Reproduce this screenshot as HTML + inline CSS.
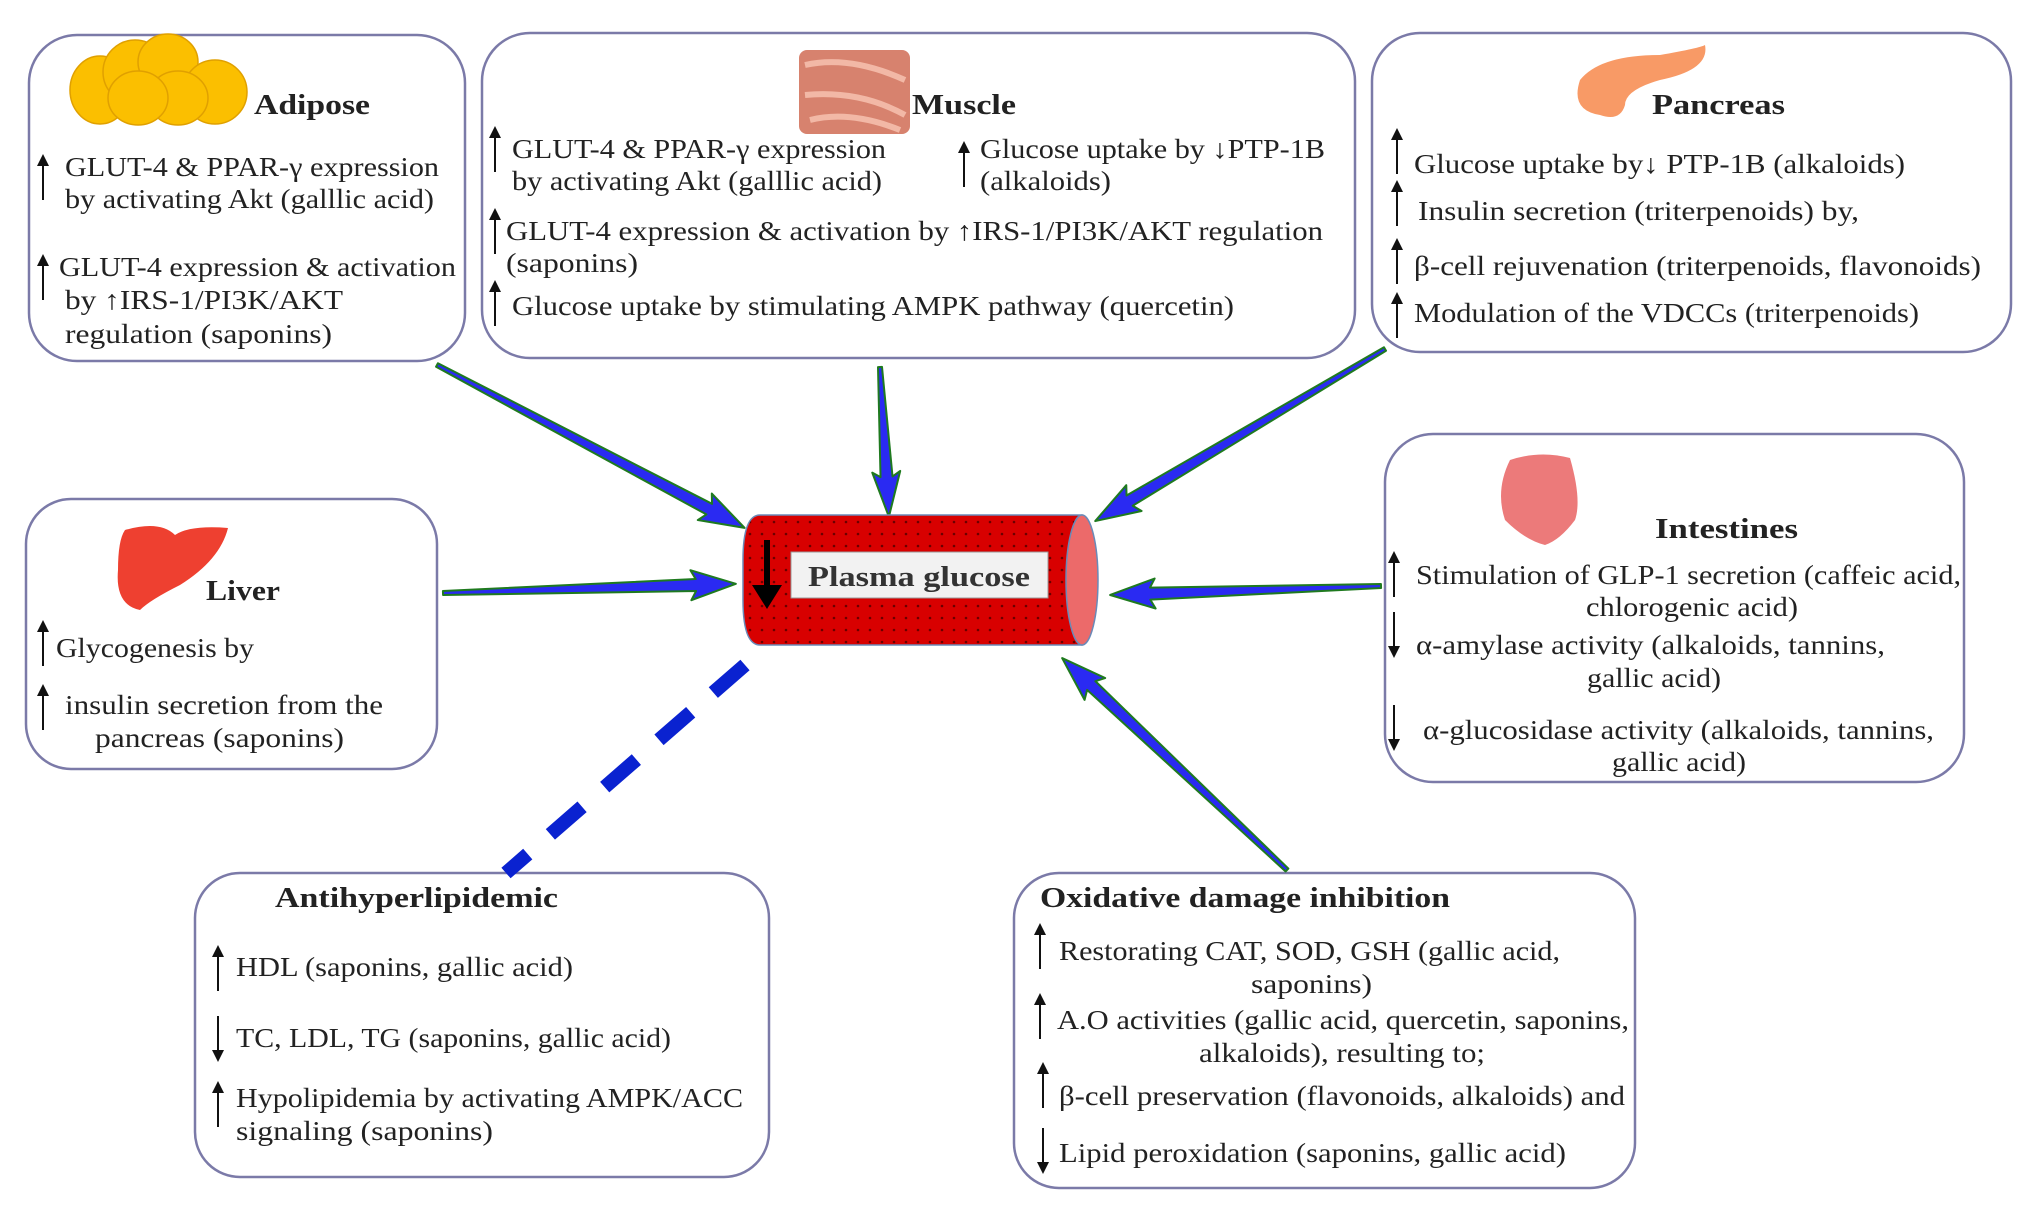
<!DOCTYPE html>
<html><head><meta charset="utf-8"><style>html,body{margin:0;padding:0;background:#fff}svg{display:block}</style></head>
<body>
<svg width="2033" height="1215" viewBox="0 0 2033 1215" xmlns="http://www.w3.org/2000/svg" font-family="Liberation Serif, serif" font-size="27" fill="#222">
<defs>
<pattern id="dots" width="12" height="12" patternUnits="userSpaceOnUse"><rect width="12" height="12" fill="#d80000"/><circle cx="6" cy="6" r="1.3" fill="#6a0000"/></pattern>
<marker id="ah" markerWidth="10" markerHeight="10" refX="5" refY="0" orient="auto" markerUnits="userSpaceOnUse"></marker>
<g id="up"><line x1="0" y1="8" x2="0" y2="46" stroke="#111" stroke-width="2"/><polygon points="-6,12 0,0 6,12" fill="#111"/></g>
<g id="dn"><line x1="0" y1="0" x2="0" y2="38" stroke="#111" stroke-width="2"/><polygon points="-6,34 0,46 6,34" fill="#111"/></g>
</defs>

<!-- boxes -->
<g fill="#fff" stroke="#7b7aa8" stroke-width="2.5">
<rect x="29" y="35" width="436" height="326" rx="48"/>
<rect x="482" y="33" width="873" height="325" rx="48"/>
<rect x="1372" y="33" width="639" height="319" rx="48"/>
<rect x="26" y="499" width="411" height="270" rx="45"/>
<rect x="1385" y="434" width="579" height="348" rx="48"/>
<rect x="195" y="873" width="574" height="304" rx="45"/>
<rect x="1014" y="873" width="621" height="315" rx="45"/>
</g>

<!-- connectors -->
<g fill="#2a2af2" stroke="#1f7a1f" stroke-width="2" stroke-linejoin="round">
<g transform="translate(437,365) rotate(27.9)"><polygon points="0,-2 308,-6 303,-15 348,0 303,15 308,6 0,2"/></g>
<g transform="translate(880,367) rotate(86.6)"><polygon points="0,-2 110,-6 105,-14 150,0 105,14 110,6 0,2"/></g>
<g transform="translate(1385,349) rotate(149.3)"><polygon points="0,-2 297,-6 292,-15 337,0 292,15 297,6 0,2"/></g>
<g transform="translate(443,593) rotate(-1.8)"><polygon points="0,-2 253,-6 248,-15 293,0 248,15 253,6 0,2"/></g>
<g transform="translate(1381,586) rotate(178.1)"><polygon points="0,-2 231,-6 226,-15 271,0 226,15 231,6 0,2"/></g>
<g transform="translate(1287,870) rotate(223.3)"><polygon points="0,-2 269,-6 264,-15 309,0 264,15 269,6 0,2"/></g>
</g>
<line x1="745" y1="665" x2="506" y2="873" stroke="#0a22d0" stroke-width="14" stroke-dasharray="42 30"/>

<!-- cylinder -->
<path d="M760,515 L1082,515 L1082,645 L760,645 Q743,645 743,600 L743,560 Q743,515 760,515 Z" fill="url(#dots)" stroke="#6a8ab8" stroke-width="1.5"/>
<ellipse cx="1082" cy="580" rx="16" ry="65" fill="#ec6a6a" stroke="#6a8ab8" stroke-width="1.5"/>
<rect x="791" y="552" width="257" height="46" fill="#f2f2f2" stroke="#999" stroke-width="1"/>
<text x="919" y="586" text-anchor="middle" font-weight="bold" font-size="29" fill="#333" textLength="222" lengthAdjust="spacingAndGlyphs">Plasma glucose</text>
<line x1="767" y1="540" x2="767" y2="590" stroke="#000" stroke-width="6"/>
<polygon points="752,585 767,609 782,585" fill="#000"/>

<!-- icons -->
<g fill="#fbbf00" stroke="#e0a000" stroke-width="1.5">
<ellipse cx="100" cy="90" rx="30" ry="34"/><ellipse cx="135" cy="72" rx="32" ry="32"/><ellipse cx="168" cy="62" rx="30" ry="28"/>
<ellipse cx="215" cy="92" rx="32" ry="32"/><ellipse cx="178" cy="98" rx="30" ry="27"/><ellipse cx="138" cy="98" rx="30" ry="27"/>
</g>
<rect x="799" y="50" width="111" height="84" rx="8" fill="#d7826e"/>
<path d="M805,65 Q850,55 905,80 M805,95 Q860,90 905,115 M810,120 Q850,110 900,130" stroke="#f2b8a6" stroke-width="6" fill="none"/>
<path d="M1600,115 Q1570,110 1580,80 Q1600,55 1660,55 Q1700,48 1705,45 Q1710,70 1660,80 Q1625,90 1625,105 Q1620,122 1600,115 Z" fill="#f89a66"/>
<path d="M125,530 Q160,520 175,535 Q190,525 228,528 Q220,560 180,585 Q150,600 140,610 Q115,605 118,570 Q118,540 125,530 Z" fill="#ee4030"/>
<path d="M1510,460 Q1540,450 1570,458 Q1582,500 1575,520 Q1560,540 1545,545 Q1525,540 1505,520 Q1495,490 1510,460 Z" fill="#ec7a7a"/>

<!-- titles -->
<g font-weight="bold" font-size="29">
<text x="254" y="114" textLength="116" lengthAdjust="spacingAndGlyphs">Adipose</text>
<text x="912" y="114" textLength="104" lengthAdjust="spacingAndGlyphs">Muscle</text>
<text x="1652" y="114" textLength="133" lengthAdjust="spacingAndGlyphs">Pancreas</text>
<text x="206" y="600" textLength="74" lengthAdjust="spacingAndGlyphs">Liver</text>
<text x="1655" y="538" textLength="143" lengthAdjust="spacingAndGlyphs">Intestines</text>
<text x="275" y="907" textLength="283" lengthAdjust="spacingAndGlyphs">Antihyperlipidemic</text>
<text x="1040" y="907" textLength="410" lengthAdjust="spacingAndGlyphs">Oxidative damage inhibition</text>
</g>

<!-- body text -->
<g lengthAdjust="spacingAndGlyphs">
<text x="65" y="176" textLength="374" lengthAdjust="spacingAndGlyphs">GLUT-4 &amp; PPAR-γ expression</text>
<text x="65" y="208" textLength="369" lengthAdjust="spacingAndGlyphs">by activating Akt (galllic acid)</text>
<text x="59" y="276" textLength="397" lengthAdjust="spacingAndGlyphs">GLUT-4 expression &amp; activation</text>
<text x="65" y="309" textLength="278" lengthAdjust="spacingAndGlyphs">by ↑IRS-1/PI3K/AKT</text>
<text x="65" y="343" textLength="267" lengthAdjust="spacingAndGlyphs">regulation (saponins)</text>

<text x="512" y="158" textLength="374" lengthAdjust="spacingAndGlyphs">GLUT-4 &amp; PPAR-γ expression</text>
<text x="512" y="190" textLength="370" lengthAdjust="spacingAndGlyphs">by activating Akt (galllic acid)</text>
<text x="980" y="158" textLength="345" lengthAdjust="spacingAndGlyphs">Glucose uptake by ↓PTP-1B</text>
<text x="980" y="190" textLength="131" lengthAdjust="spacingAndGlyphs">(alkaloids)</text>
<text x="506" y="240" textLength="817" lengthAdjust="spacingAndGlyphs">GLUT-4 expression &amp; activation by ↑IRS-1/PI3K/AKT regulation</text>
<text x="506" y="272" textLength="132" lengthAdjust="spacingAndGlyphs">(saponins)</text>
<text x="512" y="315" textLength="722" lengthAdjust="spacingAndGlyphs">Glucose uptake by stimulating AMPK pathway (quercetin)</text>

<text x="1414" y="173" textLength="491" lengthAdjust="spacingAndGlyphs">Glucose uptake by↓ PTP-1B (alkaloids)</text>
<text x="1418" y="220" textLength="441" lengthAdjust="spacingAndGlyphs">Insulin secretion (triterpenoids) by,</text>
<text x="1414" y="275" textLength="567" lengthAdjust="spacingAndGlyphs">β-cell rejuvenation (triterpenoids, flavonoids)</text>
<text x="1414" y="322" textLength="505" lengthAdjust="spacingAndGlyphs">Modulation of the VDCCs (triterpenoids)</text>

<text x="56" y="657" textLength="198" lengthAdjust="spacingAndGlyphs">Glycogenesis by</text>
<text x="65" y="714" textLength="318" lengthAdjust="spacingAndGlyphs">insulin secretion from the</text>
<text x="95" y="747" textLength="249" lengthAdjust="spacingAndGlyphs">pancreas (saponins)</text>

<text x="1416" y="584" textLength="545" lengthAdjust="spacingAndGlyphs">Stimulation of GLP-1 secretion (caffeic acid,</text>
<text x="1586" y="616" textLength="212" lengthAdjust="spacingAndGlyphs">chlorogenic acid)</text>
<text x="1416" y="654" textLength="469" lengthAdjust="spacingAndGlyphs">α-amylase activity (alkaloids, tannins,</text>
<text x="1587" y="687" textLength="134" lengthAdjust="spacingAndGlyphs">gallic acid)</text>
<text x="1423" y="739" textLength="511" lengthAdjust="spacingAndGlyphs">α-glucosidase activity (alkaloids, tannins,</text>
<text x="1612" y="771" textLength="134" lengthAdjust="spacingAndGlyphs">gallic acid)</text>

<text x="236" y="976" textLength="337" lengthAdjust="spacingAndGlyphs">HDL (saponins, gallic acid)</text>
<text x="236" y="1047" textLength="435" lengthAdjust="spacingAndGlyphs">TC, LDL, TG (saponins, gallic acid)</text>
<text x="236" y="1107" textLength="507" lengthAdjust="spacingAndGlyphs">Hypolipidemia by activating AMPK/ACC</text>
<text x="236" y="1140" textLength="257" lengthAdjust="spacingAndGlyphs">signaling  (saponins)</text>

<text x="1059" y="960" textLength="501" lengthAdjust="spacingAndGlyphs">Restorating CAT, SOD, GSH (gallic acid,</text>
<text x="1251" y="993" textLength="121" lengthAdjust="spacingAndGlyphs">saponins)</text>
<text x="1057" y="1029" textLength="572" lengthAdjust="spacingAndGlyphs">A.O activities (gallic acid, quercetin, saponins,</text>
<text x="1199" y="1062" textLength="286" lengthAdjust="spacingAndGlyphs">alkaloids), resulting to;</text>
<text x="1059" y="1105" textLength="566" lengthAdjust="spacingAndGlyphs">β-cell preservation (flavonoids, alkaloids) and</text>
<text x="1059" y="1162" textLength="507" lengthAdjust="spacingAndGlyphs">Lipid peroxidation (saponins, gallic acid)</text>
</g>

<!-- up/down arrows -->
<use href="#up" x="43" y="154"/>
<use href="#up" x="43" y="254"/>
<use href="#up" x="495" y="126"/>
<use href="#up" x="964" y="141"/>
<use href="#up" x="495" y="208"/>
<use href="#up" x="495" y="280"/>
<use href="#up" x="1397" y="128"/>
<use href="#up" x="1397" y="180"/>
<use href="#up" x="1397" y="238"/>
<use href="#up" x="1397" y="292"/>
<use href="#up" x="43" y="620"/>
<use href="#up" x="43" y="684"/>
<use href="#up" x="1394" y="551"/>
<use href="#dn" x="1394" y="612"/>
<use href="#dn" x="1394" y="705"/>
<use href="#up" x="218" y="945"/>
<use href="#dn" x="218" y="1016"/>
<use href="#up" x="218" y="1081"/>
<use href="#up" x="1040" y="923"/>
<use href="#up" x="1040" y="993"/>
<use href="#up" x="1043" y="1062"/>
<use href="#dn" x="1043" y="1128"/>
</svg>
</body></html>
